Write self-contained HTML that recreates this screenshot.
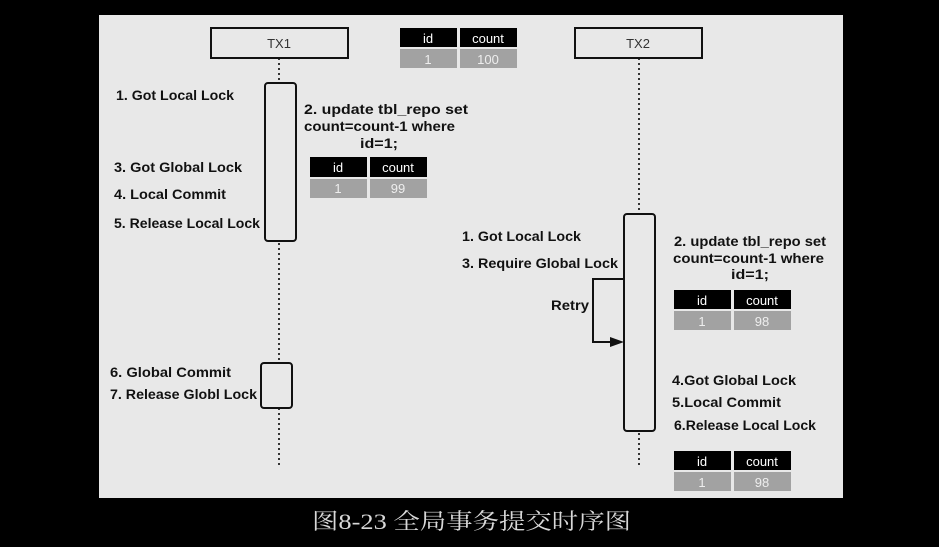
<!DOCTYPE html>
<html><head><meta charset="utf-8"><style>
html,body{margin:0;padding:0;background:#000;}
svg{display:block}
.t{font-family:"Liberation Sans",sans-serif;font-weight:bold;font-size:13.5px;fill:#111}
.c{font-family:"Liberation Sans",sans-serif;font-size:13px;text-anchor:middle}
</style></head><body>
<svg width="939" height="547" viewBox="0 0 939 547" xmlns="http://www.w3.org/2000/svg">
<rect width="939" height="547" fill="#000"/>
<rect x="99" y="15" width="744" height="483" fill="#e8e8e8"/>
<!-- lifelines -->
<line x1="279" y1="58" x2="279" y2="466" stroke="#333" stroke-width="2" stroke-dasharray="2,3"/>
<line x1="639" y1="58" x2="639" y2="466" stroke="#333" stroke-width="2" stroke-dasharray="2,3"/>
<!-- heads -->
<rect x="211" y="28" width="137" height="30" fill="#e8e8e8" stroke="#111" stroke-width="2"/>
<text x="279" y="48" class="c" fill="#333">TX1</text>
<rect x="575" y="28" width="127" height="30" fill="#e8e8e8" stroke="#111" stroke-width="2"/>
<text x="638" y="48" class="c" fill="#333">TX2</text>
<!-- activations -->
<rect x="265" y="83" width="31" height="158" rx="3" fill="#e8e8e8" stroke="#111" stroke-width="2"/>
<rect x="261" y="363" width="31" height="45" rx="3" fill="#e8e8e8" stroke="#111" stroke-width="2"/>
<rect x="624" y="214" width="31" height="217" rx="3" fill="#e8e8e8" stroke="#111" stroke-width="2"/>
<!-- retry loop -->
<polyline points="624,279 593,279 593,342 612,342" fill="none" stroke="#111" stroke-width="2"/>
<polygon points="610,337 624,342 610,347" fill="#111"/>
<!-- tables -->
<g class="c">
<rect x="400" y="28" width="57" height="19" fill="#000"/><rect x="460" y="28" width="57" height="19" fill="#000"/>
<rect x="400" y="49" width="57" height="19" fill="#a2a2a2"/><rect x="460" y="49" width="57" height="19" fill="#a2a2a2"/>
<text x="428" y="43" fill="#fff">id</text><text x="488" y="43" fill="#fff">count</text>
<text x="428" y="64" fill="#eee">1</text><text x="488" y="64" fill="#eee">100</text>

<rect x="310" y="157" width="57" height="20" fill="#000"/><rect x="370" y="157" width="57" height="20" fill="#000"/>
<rect x="310" y="179" width="57" height="19" fill="#a2a2a2"/><rect x="370" y="179" width="57" height="19" fill="#a2a2a2"/>
<text x="338" y="172" fill="#fff">id</text><text x="398" y="172" fill="#fff">count</text>
<text x="338" y="193" fill="#eee">1</text><text x="398" y="193" fill="#eee">99</text>

<rect x="674" y="290" width="57" height="19" fill="#000"/><rect x="734" y="290" width="57" height="19" fill="#000"/>
<rect x="674" y="311" width="57" height="19" fill="#a2a2a2"/><rect x="734" y="311" width="57" height="19" fill="#a2a2a2"/>
<text x="702" y="305" fill="#fff">id</text><text x="762" y="305" fill="#fff">count</text>
<text x="702" y="326" fill="#eee">1</text><text x="762" y="326" fill="#eee">98</text>

<rect x="674" y="451" width="57" height="19" fill="#000"/><rect x="734" y="451" width="57" height="19" fill="#000"/>
<rect x="674" y="472" width="57" height="19" fill="#a2a2a2"/><rect x="734" y="472" width="57" height="19" fill="#a2a2a2"/>
<text x="702" y="466" fill="#fff">id</text><text x="762" y="466" fill="#fff">count</text>
<text x="702" y="487" fill="#eee">1</text><text x="762" y="487" fill="#eee">98</text>
</g>
<!-- labels -->
<text class="t" x="116" y="100" textLength="118" lengthAdjust="spacingAndGlyphs">1. Got Local Lock</text>
<text class="t" x="304" y="114" textLength="164" lengthAdjust="spacingAndGlyphs">2. update tbl_repo set</text>
<text class="t" x="304" y="131" textLength="151" lengthAdjust="spacingAndGlyphs">count=count-1 where</text>
<text class="t" x="360" y="148" textLength="38" lengthAdjust="spacingAndGlyphs">id=1;</text>
<text class="t" x="114" y="172" textLength="128" lengthAdjust="spacingAndGlyphs">3. Got Global Lock</text>
<text class="t" x="114" y="199" textLength="112" lengthAdjust="spacingAndGlyphs">4. Local Commit</text>
<text class="t" x="114" y="228" textLength="146" lengthAdjust="spacingAndGlyphs">5. Release Local Lock</text>
<text class="t" x="110" y="377" textLength="121" lengthAdjust="spacingAndGlyphs">6. Global Commit</text>
<text class="t" x="110" y="399" textLength="147" lengthAdjust="spacingAndGlyphs">7. Release Globl Lock</text>
<text class="t" x="462" y="241" textLength="119" lengthAdjust="spacingAndGlyphs">1. Got Local Lock</text>
<text class="t" x="462" y="268" textLength="156" lengthAdjust="spacingAndGlyphs">3. Require Global Lock</text>
<text class="t" x="551" y="310" textLength="38" lengthAdjust="spacingAndGlyphs">Retry</text>
<text class="t" x="674" y="246" textLength="152" lengthAdjust="spacingAndGlyphs">2. update tbl_repo set</text>
<text class="t" x="673" y="263" textLength="151" lengthAdjust="spacingAndGlyphs">count=count-1 where</text>
<text class="t" x="731" y="279" textLength="38" lengthAdjust="spacingAndGlyphs">id=1;</text>
<text class="t" x="672" y="385" textLength="124" lengthAdjust="spacingAndGlyphs">4.Got Global Lock</text>
<text class="t" x="672" y="407" textLength="109" lengthAdjust="spacingAndGlyphs">5.Local Commit</text>
<text class="t" x="674" y="430" textLength="142" lengthAdjust="spacingAndGlyphs">6.Release Local Lock</text>
<!-- caption -->
<text x="312" y="529" font-family="'Liberation Serif','Noto Serif CJK SC',serif" font-size="22" fill="#d8d8d8" textLength="319" lengthAdjust="spacingAndGlyphs">图8-23 全局事务提交时序图</text>
</svg>
</body></html>
